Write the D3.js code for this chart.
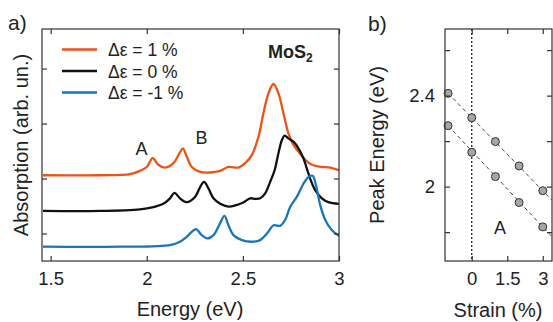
<!DOCTYPE html>
<html>
<head>
<meta charset="utf-8">
<style>
    body { margin: 0; background: white; }
    svg { font-family: 'Liberation Sans', Arial, sans-serif; }
</style>
</head>
<body>
<svg width="553" height="322"></svg>
<script src="https://d3js.org/d3.v7.min.js"></script>
<script>
    // panel a: absorption spectra, energy (eV) vs absorption (arb. un.)
    let energy_orange = [1.46, 1.757, 1.913, 1.965, 2.0, 2.031, 2.06, 2.095, 2.139, 2.17, 2.188, 2.208, 2.234, 2.278, 2.33, 2.382, 2.425, 2.477, 2.512, 2.547, 2.581, 2.607, 2.633, 2.659, 2.685, 2.711, 2.737, 2.763, 2.789, 2.824, 2.859, 2.911, 2.955, 3.0]
    let absorb_orange = [1.56, 1.56, 1.58, 1.64, 1.71, 1.87, 1.75, 1.70, 1.78, 1.96, 2.05, 1.90, 1.71, 1.62, 1.61, 1.64, 1.71, 1.70, 1.78, 1.93, 2.26, 2.69, 3.05, 3.22, 3.05, 2.69, 2.32, 2.11, 1.99, 1.84, 1.75, 1.71, 1.70, 1.65]

    let energy_black = [1.46, 1.757, 1.965, 2.034, 2.086, 2.121, 2.144, 2.173, 2.208, 2.252, 2.278, 2.298, 2.321, 2.347, 2.382, 2.425, 2.46, 2.504, 2.538, 2.565, 2.59, 2.616, 2.642, 2.665, 2.685, 2.703, 2.717, 2.737, 2.763, 2.789, 2.815, 2.832, 2.85, 2.876, 2.911, 2.945, 3.0]
    let absorb_black = [0.91, 0.91, 0.94, 0.98, 1.04, 1.14, 1.24, 1.14, 1.07, 1.17, 1.35, 1.44, 1.32, 1.14, 1.04, 0.99, 1.01, 1.07, 1.14, 1.13, 1.14, 1.23, 1.44, 1.65, 1.96, 2.20, 2.28, 2.23, 2.17, 2.05, 1.87, 1.69, 1.50, 1.29, 1.14, 1.07, 1.04]

    let energy_blue = [1.46, 1.861, 2.121, 2.173, 2.208, 2.234, 2.257, 2.286, 2.316, 2.347, 2.382, 2.404, 2.425, 2.451, 2.495, 2.547, 2.59, 2.625, 2.66, 2.694, 2.72, 2.747, 2.781, 2.816, 2.842, 2.863, 2.88, 2.902, 2.928, 2.963, 3.0]
    let absorb_blue = [0.26, 0.26, 0.29, 0.35, 0.44, 0.53, 0.58, 0.47, 0.41, 0.47, 0.69, 0.82, 0.65, 0.47, 0.38, 0.35, 0.38, 0.50, 0.65, 0.64, 0.75, 0.99, 1.17, 1.41, 1.53, 1.55, 1.38, 1.02, 0.75, 0.56, 0.46]

    let legend_labels = ["Δε = 1 %", "Δε = 0 %", "Δε = -1 %"]
    let colors = ["#ee5314", "#111111", "#1a75b9"]

    let energy_ticks = [1.5, 2, 2.5, 3]
    let absorb_ticks = [0.5, 1.5, 2.5, 3.5]

    // panel b: peak energy vs strain
    let strain = [-1, 0, 1, 2, 3]
    let peak_B = [2.41, 2.303, 2.198, 2.091, 1.982]
    let peak_A = [2.268, 2.151, 2.044, 1.93, 1.823]
    let strain_ticks = [0, 1.5, 3]
    let peak_ticks = [1.8, 2.0, 2.2, 2.4, 2.6]
    let peak_tick_labels = { "2.4": "2.4", "2": "2" }

    let svg = d3.select("svg")

    // ---------- panel a ----------
    let xa = d3.scaleLinear().domain([1.455, 3.0]).range([42, 339])
    let ya = d3.scaleLinear().domain([0, 4.22]).range([261, 29])

    let ga = svg.append("g")

    let series = [
        { x: energy_orange, y: absorb_orange },
        { x: energy_black, y: absorb_black },
        { x: energy_blue, y: absorb_blue }
    ]

    let line = d3.line()
        .x(d => xa(d[0]))
        .y(d => ya(d[1]))
        .curve(d3.curveCatmullRom.alpha(0.5))

    ga.append("defs").append("clipPath").attr("id", "clipa")
        .append("rect").attr("x", 42).attr("y", 29).attr("width", 297).attr("height", 232)

    ga.append("g").attr("clip-path", "url(#clipa)")
        .selectAll("path")
        .data(series)
        .join("path")
        .attr("d", d => line(d.x.map((v, i) => [v, d.y[i]])))
        .style("fill", "none")
        .style("stroke", (d, i) => colors[i])
        .style("stroke-width", 2.3)
        .style("stroke-linejoin", "round")

    // axes with inward ticks
    ga.append("g").attr("transform", "translate(0,261)")
        .call(d3.axisBottom(xa).tickValues(energy_ticks).tickSizeInner(-5).tickSizeOuter(0).tickPadding(11).tickFormat(d3.format("")))
    ga.append("g").attr("transform", "translate(0,29)")
        .call(d3.axisTop(xa).tickValues(energy_ticks).tickSizeInner(-5).tickSizeOuter(0).tickFormat(""))
    ga.append("g").attr("transform", "translate(42,0)")
        .call(d3.axisLeft(ya).tickValues(absorb_ticks).tickSizeInner(-5).tickSizeOuter(0).tickFormat(""))
    ga.append("g").attr("transform", "translate(339,0)")
        .call(d3.axisRight(ya).tickValues(absorb_ticks).tickSizeInner(-5).tickSizeOuter(0).tickFormat(""))

    ga.append("rect").attr("x", 42).attr("y", 29).attr("width", 297).attr("height", 232)
        .style("fill", "none").style("stroke", "#333").style("stroke-width", 1.2)

    // legend
    let leg = ga.append("g").selectAll("g")
        .data(legend_labels)
        .join("g")
        .attr("transform", (d, i) => `translate(0,${49.5 + i * 21.5})`)
    leg.append("line").attr("x1", 62).attr("x2", 97)
        .style("stroke", (d, i) => colors[i]).style("stroke-width", 2.3)
    leg.append("text").attr("x", 108).attr("y", 6.5).text(d => d)
        .style("font-size", "17.5px").style("fill", "#222")

    let mos = ga.append("text").attr("x", 268).attr("y", 58)
        .style("font-size", "18px").style("font-weight", "bold").style("fill", "#222")
    mos.append("tspan").text("MoS")
    mos.append("tspan").attr("dy", 4).style("font-size", "12px").text("2")

    ga.append("text").attr("x", 141.5).attr("y", 155).attr("text-anchor", "middle")
        .style("font-size", "18px").style("fill", "#222").text("A")
    ga.append("text").attr("x", 201.5).attr("y", 144).attr("text-anchor", "middle")
        .style("font-size", "18px").style("fill", "#222").text("B")

    ga.append("text").attr("x", 190).attr("y", 316).attr("text-anchor", "middle")
        .style("font-size", "20px").style("fill", "#222").text("Energy (eV)")
    ga.append("text").attr("transform", "translate(28,145) rotate(-90)").attr("text-anchor", "middle")
        .style("font-size", "20px").style("fill", "#222").text("Absorption (arb. un.)")

    svg.append("text").attr("x", 8).attr("y", 30)
        .style("font-size", "21px").style("fill", "#222").text("a)")

    // ---------- panel b ----------
    let xb = d3.scaleLinear().domain([-1.13, 3.39]).range([445, 552])
    let yb = d3.scaleLinear().domain([1.673, 2.693]).range([261, 29])

    let gb = svg.append("g")

    gb.append("line")
        .attr("x1", xb(0)).attr("x2", xb(0)).attr("y1", 29).attr("y2", 261)
        .style("stroke", "#111").style("stroke-width", 1.2).style("stroke-dasharray", "2,2")

    gb.append("defs").append("clipPath").attr("id", "clipb")
        .append("rect").attr("x", 445).attr("y", 29).attr("width", 107).attr("height", 232)

    // dashed guide through each series, continued to the right frame
    let guides = gb.append("g").attr("clip-path", "url(#clipb)")
    ;[peak_B, peak_A].forEach(vals => {
        let n = vals.length
        let slope = (vals[n - 1] - vals[0]) / (strain[n - 1] - strain[0])
        let xEnd = xb.domain()[1]
        guides.append("line")
            .attr("x1", xb(strain[0])).attr("y1", yb(vals[0]))
            .attr("x2", xb(xEnd)).attr("y2", yb(vals[n - 1] + slope * (xEnd - strain[n - 1])))
            .style("stroke", "#333").style("stroke-width", 0.9).style("stroke-dasharray", "4,3")
    })

    gb.append("g").selectAll("circle")
        .data(strain.map((s, i) => [s, peak_B[i]]).concat(strain.map((s, i) => [s, peak_A[i]])))
        .join("circle")
        .attr("cx", d => xb(d[0]))
        .attr("cy", d => yb(d[1]))
        .attr("r", 4)
        .style("fill", "#a6a6a6")
        .style("stroke", "#333")
        .style("stroke-width", 1)

    gb.append("g").attr("transform", "translate(0,261)")
        .call(d3.axisBottom(xb).tickValues(strain_ticks).tickSizeInner(-5).tickSizeOuter(0).tickPadding(11).tickFormat(d3.format("")))
    gb.append("g").attr("transform", "translate(0,29)")
        .call(d3.axisTop(xb).tickValues(strain_ticks).tickSizeInner(-5).tickSizeOuter(0).tickFormat(""))
    gb.append("g").attr("transform", "translate(445,0)")
        .call(d3.axisLeft(yb).tickValues(peak_ticks).tickSizeInner(-5).tickSizeOuter(0).tickPadding(10)
            .tickFormat(d => peak_tick_labels[d3.format("")(d)] || ""))
    gb.append("g").attr("transform", "translate(552,0)")
        .call(d3.axisRight(yb).tickValues(peak_ticks).tickSizeInner(-5).tickSizeOuter(0).tickFormat(""))

    gb.append("rect").attr("x", 445).attr("y", 29).attr("width", 107).attr("height", 232)
        .style("fill", "none").style("stroke", "#333").style("stroke-width", 1.2)

    gb.append("text").attr("x", 500).attr("y", 233.5).attr("text-anchor", "middle")
        .style("font-size", "18px").style("fill", "#222").text("A")

    gb.append("text").attr("x", 498).attr("y", 317).attr("text-anchor", "middle")
        .style("font-size", "20px").style("fill", "#222").text("Strain (%)")
    gb.append("text").attr("transform", "translate(384,145) rotate(-90)").attr("text-anchor", "middle")
        .style("font-size", "20px").style("fill", "#222").text("Peak Energy (eV)")

    svg.append("text").attr("x", 368).attr("y", 31)
        .style("font-size", "21px").style("fill", "#222").text("b)")

    // shared axis styling
    svg.selectAll(".domain").remove()
    svg.selectAll(".tick line").style("stroke", "#333").style("stroke-width", 1.2)
    svg.selectAll(".tick text").style("font-size", "18.5px").style("fill", "#222")
        .style("font-family", "'Liberation Sans', Arial, sans-serif")
</script>
</body>
</html>
